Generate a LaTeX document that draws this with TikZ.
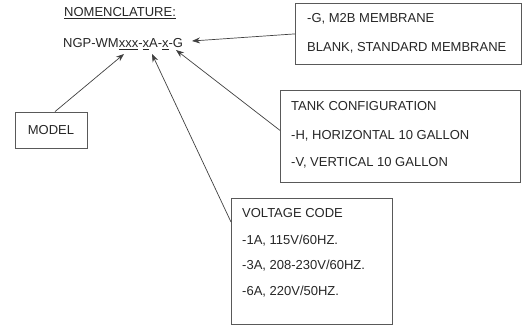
\documentclass[tikz,border=0pt]{standalone}
\usepackage{fontspec}
\setmainfont{Liberation Sans}
\usetikzlibrary{arrows.meta}
\begin{document}
\begin{tikzpicture}[x=1pt,y=-1pt,
  txt/.style={anchor=base west,inner sep=0pt,font=\fontsize{13}{15}\selectfont,text=black!85},
  boxnode/.style={draw=black!65,line width=0.8pt,inner sep=0pt,anchor=north west},
  arr/.style={draw=black!75,line width=0.7pt,-{Stealth[length=8pt,width=6pt]}}]
\useasboundingbox (0,0) rectangle (522,326);
% title and model code
\node[txt] (title) at (64,17) {\underline{NOMENCLATURE:}};
\node[txt] (code) at (63,48) {NGP-WM\underline{xxx}-\underline{x}A-\underline{x}-G};
\coordinate (tipG) at (192,41);
\coordinate (tipX1) at (124,54);
\coordinate (tipX2) at (152,54);
\coordinate (tipX3) at (176,50);
% membrane box
\node[boxnode,minimum width=226pt,minimum height=61pt] (gbox) at (295,3) {};
\node[txt] (g1) at (307,23) {-G, M2B MEMBRANE};
\node[txt] (g2) at (307,52) {BLANK, STANDARD MEMBRANE};
% model box
\node[draw=black!65,line width=0.8pt,minimum width=72pt,minimum height=36pt,inner sep=0pt,font=\fontsize{13}{15}\selectfont,text=black!85] (mbox) at (51,130) {MODEL};
% tank box
\node[boxnode,minimum width=240pt,minimum height=92pt] (tbox) at (280,90) {};
\node[txt] (t1) at (291,111) {TANK CONFIGURATION};
\node[txt] (t2) at (291,140) {-H, HORIZONTAL 10 GALLON};
\node[txt] (t3) at (291,167) {-V, VERTICAL 10 GALLON};
% voltage box
\node[boxnode,minimum width=161pt,minimum height=126pt] (vbox) at (231,198) {};
\node[txt] (v1) at (242,217) {VOLTAGE CODE};
\node[txt] (v2) at (242,244) {-1A, 115V/60HZ.};
\node[txt] (v3) at (242,269) {-3A, 208-230V/60HZ.};
\node[txt] (v4) at (242,295) {-6A, 220V/50HZ.};
% connectors
\draw[arr] (gbox.west) -- (tipG);
\draw[arr] ([xshift=4pt]mbox.north) -- (tipX1);
\draw[arr] ([yshift=-24pt]vbox.north west) -- (tipX2);
\draw[arr] ([yshift=6pt]tbox.west) -- (tipX3);
\end{tikzpicture}
\end{document}
